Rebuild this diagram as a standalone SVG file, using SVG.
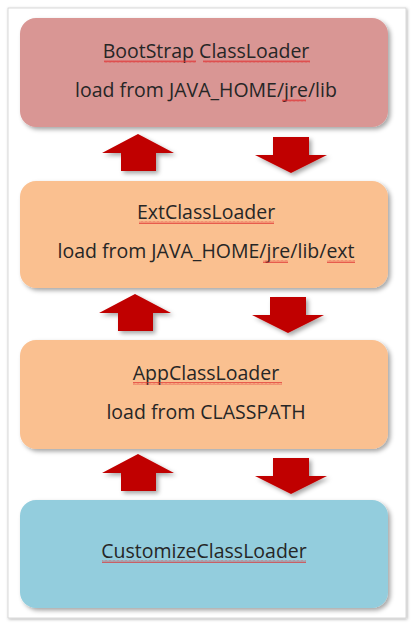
<svg xmlns="http://www.w3.org/2000/svg" width="418" height="630" viewBox="0 0 418 630">
<defs>
<filter id="sh" x="-10%" y="-10%" width="125%" height="130%">
<feDropShadow dx="2.5" dy="2.5" stdDeviation="2" flood-color="#000" flood-opacity="0.35"/>
</filter>
<filter id="pg" x="-5%" y="-5%" width="110%" height="110%">
<feDropShadow dx="1" dy="1" stdDeviation="1.5" flood-color="#000" flood-opacity="0.3"/>
</filter>
<pattern id="sq" width="4" height="3" patternUnits="userSpaceOnUse">
<path d="M0 2.5 L1 0.5 L2 2.5 L3 0.5 L4 2.5" fill="none" stroke="#e03030" stroke-width="0.7"/>
</pattern>
<path id="up" d="M0 0 L36 19 L18 19 L18 37 L-17 37 L-17 19 L-36 19 Z"/>
<path id="down" d="M0 0 L36 -18 L18 -18 L18 -36 L-18 -36 L-18 -18 L-36 -18 Z"/>
</defs>
<style>
.box{stroke:none;filter:url(#sh)}
.t{font-family:"Open Sans","Noto Sans",sans-serif;font-size:19.5px;fill:#262626;text-anchor:middle}
.arr{fill:#C00000;filter:url(#sh)}
.w{fill:url(#sq)}
</style>
<rect width="418" height="630" fill="#fff"/>
<rect x="8" y="8" width="398" height="610" fill="#fff" stroke="#d0d0d0" stroke-width="0.8" filter="url(#pg)"/>
<g id="connectors">
<use href="#up" x="138" y="134" class="arr"/>
<use href="#down" x="291" y="173" class="arr"/>
<use href="#up" x="135" y="294" class="arr"/>
<use href="#down" x="288" y="333" class="arr"/>
<use href="#up" x="138" y="454" class="arr"/>
<use href="#down" x="291" y="494" class="arr"/>
</g>
<g id="bootstrap">
<rect class="box" x="20" y="18" width="368" height="109" rx="16" fill="#D99694"/>
<text class="t" x="206" y="58">BootStrap ClassLoader</text>
<text class="t" x="206" y="97">load from JAVA_HOME/jre/lib</text>
<rect class="w" x="104" y="60" width="92" height="3"/>
<rect class="w" x="203" y="60" width="107" height="3"/>
<rect class="w" x="282" y="99" width="24" height="3"/>
</g>
<g id="ext">
<rect class="box" x="20" y="181" width="368" height="107" rx="16" fill="#FAC090"/>
<text class="t" x="206" y="219">ExtClassLoader</text>
<text class="t" x="206" y="258">load from JAVA_HOME/jre/lib/ext</text>
<rect class="w" x="139" y="221" width="135" height="3"/>
<rect class="w" x="263" y="260" width="25" height="3"/>
<rect class="w" x="327" y="260" width="28" height="3"/>
</g>
<g id="app">
<rect class="box" x="20" y="340" width="368" height="109" rx="16" fill="#FAC090"/>
<text class="t" x="206" y="380">AppClassLoader</text>
<text class="t" x="206" y="419">load from CLASSPATH</text>
<rect class="w" x="133" y="382" width="149" height="3"/>
</g>
<g id="customize">
<rect class="box" x="20" y="500" width="368" height="108" rx="16" fill="#93CDDD"/>
<text class="t" x="204" y="558">CustomizeClassLoader</text>
<rect class="w" x="102" y="560" width="204" height="3"/>
</g>
</svg>
